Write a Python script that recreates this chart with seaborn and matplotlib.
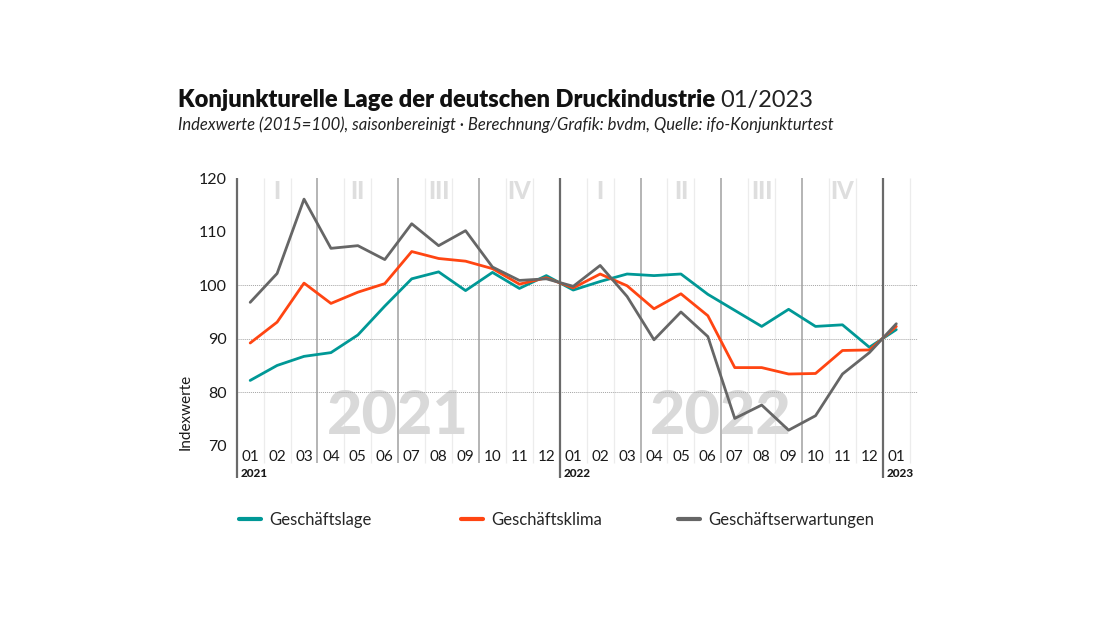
import pandas as pd
import matplotlib.pyplot as plt
import seaborn as sns
from matplotlib.lines import Line2D
from matplotlib.transforms import blended_transform_factory

# Monate 01/2021 bis 01/2023
MONTHS = ['01', '02', '03', '04', '05', '06', '07', '08', '09', '10', '11', '12',
          '01', '02', '03', '04', '05', '06', '07', '08', '09', '10', '11', '12',
          '01']
YEARS = ['2021', '2022', '2023']
QUARTERS = ['I', 'II', 'III', 'IV']

GESCHAEFTSLAGE = [82.2, 85.0, 86.7, 87.4, 90.7, 96.1, 101.2, 102.5, 99.0, 102.4, 99.4, 101.8,
                  99.1, 100.7, 102.1, 101.8, 102.1, 98.3, 95.3, 92.3, 95.5, 92.3, 92.6, 88.4,
                  91.7]
GESCHAEFTSKLIMA = [89.2, 93.1, 100.4, 96.6, 98.7, 100.3, 106.3, 105.0, 104.5, 103.1, 100.2, 101.4,
                   99.5, 102.1, 99.9, 95.6, 98.4, 94.3, 84.6, 84.6, 83.4, 83.5, 87.8, 87.9,
                   92.3]
GESCHAEFTSERWARTUNGEN = [96.8, 102.2, 116.1, 106.9, 107.4, 104.8, 111.5, 107.4, 110.2, 103.4, 100.9, 101.2,
                         99.8, 103.7, 97.9, 89.8, 95.0, 90.4, 75.1, 77.6, 72.9, 75.6, 83.4, 87.4,
                         92.8]

SERIES = ['Geschäftslage', 'Geschäftsklima', 'Geschäftserwartungen']
COLORS = ['#009896', '#ff4512', '#666666']


def main():
    df = pd.DataFrame({
        'idx': list(range(len(MONTHS))),
        SERIES[0]: GESCHAEFTSLAGE,
        SERIES[1]: GESCHAEFTSKLIMA,
        SERIES[2]: GESCHAEFTSERWARTUNGEN,
    })
    long_df = df.melt(id_vars='idx', var_name='Reihe', value_name='Wert')

    sns.set_theme(style='white')
    plt.rcParams['font.family'] = ['Lato', 'DejaVu Sans']

    fig = plt.figure(figsize=(11, 6.19), dpi=100)
    ax = fig.add_axes([0.2152, 0.28, 0.6192, 0.432])

    n = len(MONTHS)
    ax.set_xlim(-0.5, n - 0.2)
    ax.set_ylim(70, 120)

    trans = blended_transform_factory(ax.transData, ax.transAxes)

    # helle Monatslinien, Quartalslinien, Jahreslinien
    for i in range(n + 1):
        b = i - 0.5
        if i % 12 == 0:
            ax.plot([b, b], [1, -0.12], transform=trans, color='#6a6a6a', lw=1.6,
                    clip_on=False, zorder=1, solid_capstyle='butt')
        elif i % 3 == 0:
            ax.plot([b, b], [1, -0.065], transform=trans, color='#a0a0a0', lw=1.1,
                    clip_on=False, zorder=1, solid_capstyle='butt')
        else:
            ax.plot([b, b], [1, -0.065], transform=trans, color='#ececec', lw=0.9,
                    clip_on=False, zorder=0.5, solid_capstyle='butt')

    for yv in [70, 80, 90, 100]:
        ax.axhline(yv, color='#a5a5a5', lw=0.7, ls=(0, (1, 1)), zorder=0.8)

    # Quartalsbeschriftungen
    for year_off in [0, 12]:
        for q, lab in enumerate(QUARTERS):
            ax.text(year_off + q * 3 + 1, 0.95, lab, transform=trans, ha='center', va='center',
                    fontsize=17, fontweight='black', color='#dedede', zorder=0.6)

    # große Jahreszahlen
    ax.text(5.5, 70.4, YEARS[0], ha='center', va='bottom', fontsize=44, fontweight='black',
            color='#d9d9d9', zorder=0.6)
    ax.text(17.5, 70.4, YEARS[1], ha='center', va='bottom', fontsize=44, fontweight='black',
            color='#d9d9d9', zorder=0.6)

    sns.lineplot(data=long_df, x='idx', y='Wert', hue='Reihe', hue_order=SERIES,
                 palette=COLORS, linewidth=2.0, legend=False, ax=ax, zorder=3)

    for sp in ax.spines.values():
        sp.set_visible(False)

    ax.set_xticks([])
    ax.set_xlabel('')
    ax.set_ylabel('')
    for i, m in enumerate(MONTHS):
        ax.text(i, -0.042, m, transform=trans, ha='center', va='center', fontsize=11,
                color='#1a1a1a')
    for k, yr in enumerate(YEARS):
        ax.text(k * 12 - 0.5 + 0.15, -0.105, yr, transform=trans, ha='left', va='center',
                fontsize=8.5, fontweight='black', color='#1a1a1a')

    ax.set_yticks([70, 80, 90, 100, 110, 120])
    ax.tick_params(axis='y', length=0, pad=7, labelsize=11.5, labelcolor='#1a1a1a')

    fig.text(186 / 1100, 1 - 412 / 619, 'Indexwerte', rotation=90, ha='center', va='center',
             fontsize=11, color='#1a1a1a')

    # Titel
    t = fig.text(178 / 1100, 1 - 107 / 619, 'Konjunkturelle Lage der deutschen Druckindustrie',
                 fontsize=17, fontweight='heavy', color='#111111', va='baseline')
    fig.canvas.draw()
    bb = t.get_window_extent()
    fig.text((bb.x1 + 5) / 1100, 1 - 107 / 619, '01/2023', fontsize=17, fontweight='normal',
             color='#222222', va='baseline')
    fig.text(178 / 1100, 1 - 130 / 619,
             'Indexwerte (2015=100), saisonbereinigt · Berechnung/Grafik: bvdm, Quelle: ifo-Konjunkturtest',
             fontsize=12, style='italic', color='#222222', va='baseline')

    # Legende
    for k, (name, col) in enumerate(zip(SERIES, COLORS)):
        handle = Line2D([], [], color=col, lw=3)
        fig.legend([handle], [name], loc='center left',
                   bbox_to_anchor=([234, 456, 673][k] / 1100, 1 - 520 / 619),
                   frameon=False, fontsize=12, handlelength=1.3, handletextpad=0.5,
                   borderaxespad=0, borderpad=0.3)

    fig.savefig('out.png', dpi=100, facecolor='white')
    plt.close(fig)


if __name__ == '__main__':
    main()
